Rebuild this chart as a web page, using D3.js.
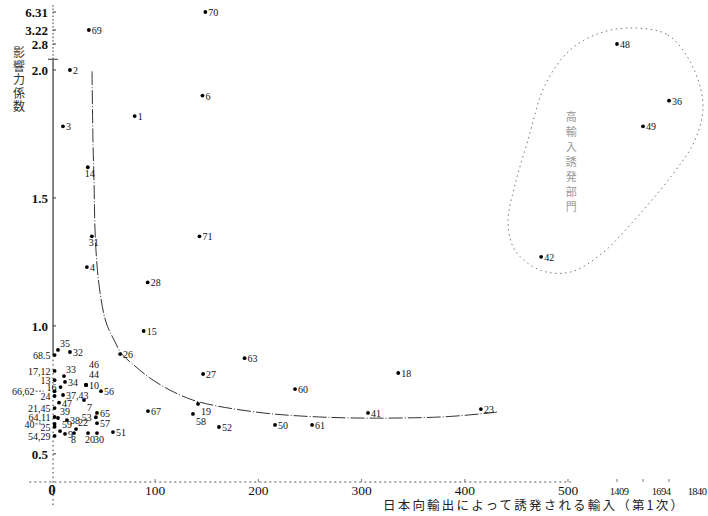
<!DOCTYPE html>
<html>
<head>
<meta charset="utf-8">
<script src="https://cdn.jsdelivr.net/npm/d3@7"></script>
<style>
  html, body { margin: 0; padding: 0; background: #fff; }
  svg { display: block; }
</style>
</head>
<body>
<svg id="chart" width="708" height="516"></svg>
<script>
// 部門番号（同一位置の部門はまとめて表記）
const sectorIds = ["70","69","48","2","6","36","1","3","49","14","71","31","42","4","28","15",
  "35","32","26","68.5","63","17,12","18","27","33","13","34","46","44","10","16","60",
  "66,62","56","24","37,43","7","19","47","21,45","23","67","41","65","58","64,11","39",
  "53","38","57","50","61","40","25","52","22","59","51","8","20","30","9","54,29"];

// 日本向輸出によって誘発される輸入（第1次）
const importInduced = [148.6,35.7,1409,17.4,145.8,1840,80.1,10.6,1694,34.7,142.9,38.6,474,33.8,92.7,88.8,
  5.8,17.4,66,2.5,186.6,2.5,335.5,146.4,11.6,2.5,12.6,33,33,33,8.3,235.5,
  2.5,47.5,2.5,10.7,31.0,141.5,6.8,2.5,415.6,93,306.2,43.6,136.6,2.5,5.8,
  42.5,14.5,43.6,216.1,252,2.5,2.5,161.8,23.3,7.8,59.1,21.3,34.9,43.6,12.6,2.5];

// 影響力係数
const influence = [6.31,3.22,2.8,2.0,1.90,1.88,1.82,1.78,1.78,1.62,1.35,1.35,1.27,1.23,1.17,0.98,
  0.906,0.898,0.89,0.886,0.874,0.824,0.816,0.812,0.804,0.788,0.781,0.769,0.769,0.769,0.761,0.753,
  0.745,0.745,0.726,0.730,0.710,0.695,0.700,0.679,0.675,0.667,0.66,0.66,0.656,0.644,0.640,
  0.643,0.632,0.62,0.613,0.613,0.617,0.606,0.605,0.597,0.589,0.585,0.581,0.581,0.581,0.578,0.570];

// 番号の添え位置 r:右 l:左 lf:左（引出し線付） a:上 a1/a2:上段 b:下 br:右下
const labelSide = ["r","r","r","r","r","r","r","r","r","b","r","b","r","r","r","r",
  "a","r","r","l","r","l","r","r","a","l","r","a2","a1","r","l","r",
  "lf","r","l","r","br","br","r","l","r","r","r","r","br","l","a",
  "l","r","r","r","r","lf","l","r","a","a","r","b","b","b","r","l"];

// 境界曲線
const boundaryX = [38.8,39.7,40.7,41.7,43.6,46.5,52.3,60.1,67.8,80.4,95.0,114.3,136.6,159.9,204.5,240.3,295.5,376.0,414.7,431.2];
const boundaryY = [1.995,1.726,1.570,1.374,1.238,1.132,1.015,0.945,0.89,0.843,0.796,0.749,0.710,0.687,0.660,0.648,0.640,0.644,0.656,0.663];

// 右上の部門群を囲む線
const groupX = [1584,1834,1969,2031,1986,1857,1551,1094,537,472.9,448.6,441.9,448.6,461.2,477.7,537,1094];
const groupY = [3.56,3.07,2.15,1.863,1.726,1.589,1.394,1.277,1.210,1.218,1.296,1.406,1.550,1.726,1.941,2.615,3.13];

const xTicks = [0,100,200,300,400,500,1409,1694,1840];
const yTicks = [0.5,1.0,1.5,2.0,2.8,3.22,6.31];
const xTitle = "日本向輸出によって誘発される輸入（第1次）";
const yTitle = "影響力係数";
const groupTitle = "高輸入誘発部門";

const svg = d3.select("#chart");
const serif = "'Liberation Serif','DejaVu Serif',serif";
const cjk = "'Noto Sans CJK JP','Noto Sans CJK SC',sans-serif";

// 折れ軸：500以降と2.0以上は圧縮表示
const x = d3.scaleLinear().domain([0,500,1409,1694,1840]).range([52,568,617,643,669]);
const y = d3.scaleLinear().domain([0.39,2.0,2.8,3.22,6.31]).range([482,70,44,30,12]);

// ---- 軸 ----
const yAxisAt = x(1);
const axisG = svg.append("g").attr("stroke", "#333").attr("fill", "none");
axisG.append("line").attr("x1", yAxisAt).attr("x2", yAxisAt)
  .attr("y1", y(7.5)).attr("y2", y(2.31)).attr("stroke-dasharray", "1.5,2");
axisG.append("line").attr("x1", yAxisAt).attr("x2", yAxisAt)
  .attr("y1", y(2.31)).attr("y2", y(0.886)).attr("stroke-width", 1.2);
axisG.append("line").attr("x1", yAxisAt).attr("x2", yAxisAt)
  .attr("y1", y(0.886)).attr("y2", y(0.30)).attr("stroke-dasharray", "1.5,3");
// 省略記号
axisG.append("line").attr("x1", yAxisAt - 5).attr("x2", yAxisAt + 5)
  .attr("y1", y(2.33)).attr("y2", y(2.33));
// 目盛
axisG.selectAll("line.ytick").data(yTicks).join("line").attr("class", "ytick")
  .attr("x1", yAxisAt).attr("x2", yAxisAt + 3)
  .attr("y1", d => y(d)).attr("y2", d => y(d));

// x軸（点線）
axisG.append("line").attr("x1", x(-22)).attr("x2", x(560))
  .attr("y1", y(0.39)).attr("y2", y(0.39))
  .attr("stroke", "#555").attr("stroke-dasharray", "2,3");
axisG.selectAll("line.xtick").data(xTicks.slice(1)).join("line").attr("class", "xtick")
  .attr("x1", d => x(d)).attr("x2", d => x(d))
  .attr("y1", y(0.39) - 3).attr("y2", y(0.39))
  .attr("stroke", "#777");

// y目盛ラベル
svg.append("g").selectAll("text").data(yTicks).join("text")
  .attr("x", 48).attr("y", d => y(d) + 5)
  .attr("text-anchor", "end")
  .attr("font-family", serif).attr("font-size", 13).attr("font-weight", "bold")
  .attr("fill", "#111")
  .text(d => d3.format(d >= 3 ? ".2f" : ".1f")(d));

// x目盛ラベル（折れ部分は重ならないようずらす）
const breakNudge = {1409: 2, 1694: 18, 1840: 28};
svg.append("g").selectAll("text").data(xTicks).join("text")
  .attr("x", d => x(d) + (breakNudge[d] || 0))
  .attr("y", 495)
  .attr("text-anchor", "middle")
  .attr("font-family", serif)
  .attr("font-size", d => d > 500 ? 10.5 : (d === 0 ? 15 : 13.5))
  .attr("font-weight", d => d === 0 ? "bold" : "normal")
  .attr("letter-spacing", d => d > 500 ? "-0.6px" : "0px")
  .attr("fill", "#111")
  .text(d => d);

// 軸タイトル
svg.append("text").attr("x", 383).attr("y", 510)
  .attr("font-family", cjk).attr("font-size", 12.5).attr("letter-spacing", "2.2px")
  .attr("fill", "#222").text(xTitle);

svg.append("g").selectAll("text").data(Array.from(yTitle)).join("text")
  .attr("x", 19).attr("y", (d, i) => 57 + i * 13.5)
  .attr("text-anchor", "middle")
  .attr("font-family", cjk).attr("font-size", 12).attr("fill", "#333")
  .text(d => d);

// ---- 境界曲線 ----
const line = d3.line().x(d => x(d[0])).y(d => y(d[1])).curve(d3.curveCatmullRom.alpha(0.5));
svg.append("path")
  .attr("d", line(boundaryX.map((v, i) => [v, boundaryY[i]])))
  .attr("fill", "none").attr("stroke", "#333").attr("stroke-width", 1)
  .attr("stroke-dasharray", "14,2,1,2");

// ---- 部門群の囲み ----
const closed = d3.line().x(d => x(d[0])).y(d => y(d[1])).curve(d3.curveCatmullRomClosed.alpha(0.5));
svg.append("path")
  .attr("d", closed(groupX.map((v, i) => [v, groupY[i]])))
  .attr("fill", "none").attr("stroke", "#777").attr("stroke-width", 1)
  .attr("stroke-dasharray", "1.5,3.5");

svg.append("g").selectAll("text").data(Array.from(groupTitle)).join("text")
  .attr("x", x(560)).attr("y", (d, i) => y(1.8) + i * 15)
  .attr("text-anchor", "middle")
  .attr("font-family", cjk).attr("font-size", 11).attr("fill", "#999")
  .text(d => d);

// ---- 各部門の点 ----
const pts = sectorIds.map((id, i) => ({id, xv: importInduced[i], yv: influence[i], side: labelSide[i]}));
const sideOffset = {
  r: [3, 4, "start"], l: [-4, 4, "end"], lf: [-20, 4, "end"],
  a: [2, -3, "start"], a1: [3, -7, "start"], a2: [3, -17, "start"],
  b: [-3, 10, "start"], br: [3, 11, "start"]
};

const ptG = svg.append("g");
ptG.selectAll("circle").data(pts).join("circle")
  .attr("cx", d => x(d.xv)).attr("cy", d => y(d.yv))
  .attr("r", 1.9).attr("fill", "#000");

ptG.selectAll("line.leader").data(pts.filter(d => d.side === "lf")).join("line")
  .attr("class", "leader")
  .attr("x1", d => x(d.xv) - 19).attr("x2", d => x(d.xv) - 11)
  .attr("y1", d => y(d.yv)).attr("y2", d => y(d.yv))
  .attr("stroke", "#444").attr("stroke-dasharray", "2,1.5");

ptG.selectAll("text").data(pts).join("text")
  .attr("x", d => x(d.xv) + sideOffset[d.side][0])
  .attr("y", d => y(d.yv) + sideOffset[d.side][1])
  .attr("text-anchor", d => sideOffset[d.side][2])
  .attr("font-family", serif).attr("font-size", 10).attr("fill", "#111")
  .text(d => d.id);
</script>
</body>
</html>
